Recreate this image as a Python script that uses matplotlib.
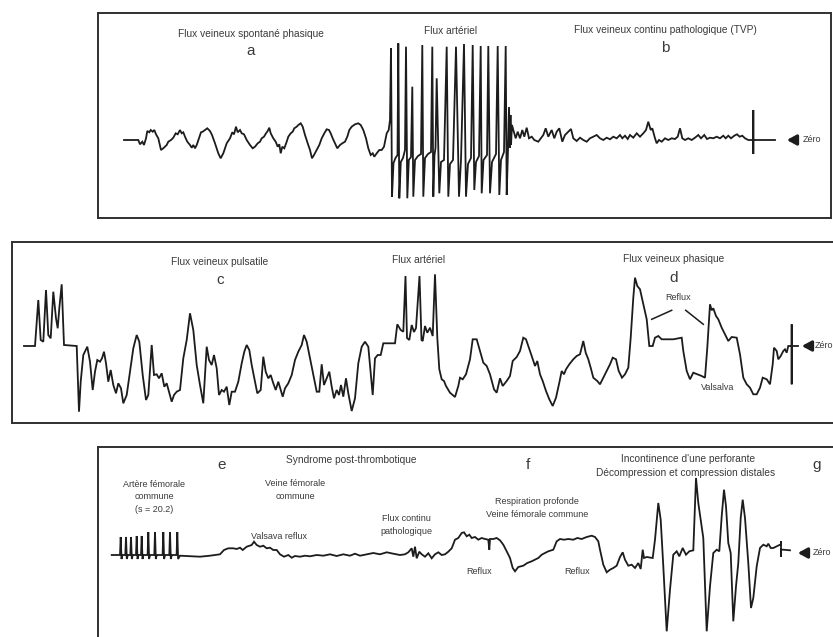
import matplotlib
matplotlib.use('Agg')
import matplotlib.pyplot as plt
import numpy as np

plt.rcParams['font.family'] = ['Liberation Sans', 'DejaVu Sans']

# ---- panel 1 : a / arterial / b  (time, velocity relative to zero) ----
vein_a = [(124, 0), (138.3, 0), (140, -4.3), (142.3, -1.7), (144, -5), (146, 1.7), (147.3, 9), (149.3, 7.7),
          (150.7, 10), (152.7, 8.3), (154.3, 10), (156, 5.7), (158.3, 1.7), (161, -10), (163.3, -8.3),
          (166.7, -5), (168.3, -1.7), (171, 0), (173.3, 2.3), (175.7, 6.7), (177.7, 5.7), (180, 10),
          (181.7, 6.7), (183.3, 7.7), (185, 3.3), (187.3, -1.7), (190, -5), (191.7, -7.7), (193.3, -5),
          (195, -8.3), (196.7, -5), (199, 1.7), (201, 7.7), (202.7, 8.3), (205, 10), (207.3, 11.7),
          (210, 9), (212, 5), (215, -3.3), (218.3, -13.3), (220.7, -18.3), (223.3, -13.3), (226.7, -3.3),
          (230, 1.7), (232.3, 7.7), (234, 5.7), (236, 13.3), (237.7, 7.7), (240, 10), (241.7, 6.7),
          (244, 5.7), (246.7, 0), (250, -5), (252.7, -8.3), (255, -6.7), (257.7, -3.3), (260, -1.7),
          (261.7, 1.7), (264, 3.3), (266, 6.7), (267.7, 9), (269.3, 12.3), (270.7, 6.7), (273.3, 1.7),
          (275.7, -1.7), (277.7, -6.7), (279.3, -4.3), (280.7, -13.3), (282.3, -6.7), (284.3, -8.3),
          (286.7, -1.7), (288.3, 3.3), (290.7, 6.7), (292.7, 8.3), (294.3, 11.7), (296.7, 13.3),
          (298.3, 15), (300.7, 16.7), (302.7, 13.3), (305, 5), (307.7, -3.3), (310, -10), (312, -18.3),
          (314, -15), (316.7, -10), (319.3, -5), (321.7, 1.7), (324.3, 6.7), (326.7, 10.7), (329, 10),
          (330.7, 6.7), (332.7, 1.7), (335, -3.3), (337.3, -8.3), (340, -5), (342.3, -3.3), (345, -1.7),
          (347.3, 3.3), (349.3, 10), (351.7, 13.3), (355, 15.7), (358.3, 16.7), (360.7, 15), (363.3, 10),
          (366, 1.7), (368.3, -8.3), (370.7, -15), (372.7, -13.3), (374.3, -16.7), (376.7, -13.3),
          (379.3, -10), (381.7, -10), (384, -6.7), (386.7, 6.7), (388.7, 10)]

arterial_1 = [(390, 20), (391, 91.7), (392, -56.7), (393.5, -23), (395.5, -18), (397.5, -15), (398.3, 96.7),
              (399.3, -58.3), (400.8, -22), (403, -18), (405, -10), (406, 93.3), (407.3, -58.3),
              (408.8, -20), (411, -17), (412.3, 53.3), (413.3, -56.7), (415, -20), (418, -16), (421, -14),
              (422.3, 95), (423.3, -56.7), (425, -18), (428, -14), (431, -12), (432.3, 93.3),
              (433.3, -56.7), (434.5, -15), (435.5, -8), (436.7, 61.7), (439.3, -53.3), (441, -22),
              (444, -20), (446.7, 93.3), (448.3, -56.7), (450, -24), (453, -20), (456, 93.3), (459, -56.7),
              (461, -20), (464, 96), (466, -56.7), (468, -24), (471, -18), (472.7, 95), (474.3, -50),
              (476, -22), (479, -16), (480.7, 94), (481.7, -53.3), (483.5, -20), (487, -15), (488.3, 94),
              (490, -53.3), (492, -22), (496, -14), (497.7, 94), (499.3, -55), (501, -20), (504, -12),
              (505.7, 94), (506.7, -55), (508, -10), (509, 33), (510, -8), (510.5, 25), (511, -5), (512, 15)]

vein_b = [(513.3, 10), (515.7, 1.7), (517.7, 8.3), (520, 1.7), (522.3, 10), (524.3, 3.3), (526.7, 12.3),
          (529, 1.7), (531.7, 3.3), (534.3, 0), (538.3, -1.7), (543.3, 5), (545.7, 11.7), (548.3, 3.3),
          (551.7, 10), (554.3, 1.7), (556.7, 8.3), (559.3, 11.7), (562.3, -1.7), (565, 5), (568.3, 8.3),
          (571, 11), (573.3, 1.7), (576.7, -1), (580, 2.3), (583.3, 0), (586.7, -1.7), (590, 1.7),
          (593.3, 3.3), (596.7, 5), (600, 1.7), (603.3, 0), (606.7, 2.3), (610, 0.7), (613.3, 3.3),
          (616.7, 1.7), (620, 5), (622.3, 1.7), (625, 4.3), (627.7, 1), (630, 5), (633.3, 2.3),
          (636.7, 6.7), (640, 3.3), (643.3, 6.7), (646, 10), (648.3, 18.3), (650.7, 10), (652.3, 11.7),
          (655, 1.7), (656.7, -3.3), (659, 0), (661.7, -1.7), (665, 1.7), (668.3, 0), (671.7, 1.7),
          (675, 1), (677.7, 3.3), (680, 11.7), (682.3, 1.7), (685, 0), (688.3, 1.7), (691.7, 0),
          (695, 2.3), (698.3, 5), (701, 1.7), (704.3, 5), (707, 1), (710, 2.3), (713.3, 1.7),
          (716.7, 3.3), (720, 1.7), (723.3, 4.3), (725.7, 1.7), (728.3, 4.3), (731, 1.7), (734.3, 4.3),
          (737, 5.7), (739.7, 3.3), (742.3, 4.3), (745, 1.7), (748.3, 0), (751.7, 0), (753.3, 0),
          (753.3, 30), (753.3, -14), (753.3, 0), (775, 0)]

# ---- panel 2 : c / arterial / d ----
vein_c = [(24, 0), (35, 0), (38.3, 46), (40.7, 6), (43.3, 4.3), (46, 56), (48.3, 11), (50.7, 7.7),
          (53.3, 54.3), (56, 27.7), (57.7, 17.7), (59.3, 37.7), (61.7, 61.7), (64, 1), (76.7, 0),
          (77.7, -29), (79, -65.7), (80.7, -35.7), (83.3, -9), (87.3, -0.7), (90, -15.7), (92.7, -44),
          (95, -25.7), (97.3, -14), (100, -15.7), (102, -12.3), (104, -5.7), (106, -17.3), (108.3, -35.7),
          (110.7, -24), (113.3, -39), (116, -47.3), (118.3, -37.3), (121, -42.3), (123.3, -57.3),
          (126.7, -49), (130, -25.7), (133.3, -2.3), (136.7, 11), (139.3, 4.3), (142.7, -29), (146, -54),
          (148.3, -49), (151.7, 1), (154, -29), (156.7, -28.3), (159, -32.3), (161.7, -27.3),
          (164.3, -40.7), (166.7, -37.3), (169, -45.7), (171.7, -55.7), (174, -49), (176.7, -45.7),
          (180, -44), (183.3, -12.3), (186.7, 6), (190, 32.7), (193.3, 16), (196.7, -19), (200, -39),
          (203.3, -57.3), (206.7, -0.7), (209, -14), (211.7, -19), (214, -9), (216.7, -22.3), (219, -49),
          (221.7, -44), (224, -45.7), (226.7, -40.7), (229.3, -59), (231.7, -45.7), (235, -45.7),
          (238.3, -35.7), (241.7, -17.3), (244.3, -5.7), (246.7, 1), (249.3, -4), (251.7, -19),
          (254.3, -32.3), (257.3, -47.3), (260.7, -44), (263.3, -10.7), (265.7, -25.7), (268.3, -32.3),
          (270.7, -29), (273.3, -37.3), (275.7, -44), (278.3, -35.7), (280.7, -44), (282.7, -50.7),
          (285, -42.3), (288.3, -37.3), (291.7, -29), (295, -14), (298.3, -5.7), (301.7, 1), (304, 11),
          (306.7, 4.3), (310, -12.3), (313.3, -29), (316.7, -45.7), (319.3, -45.7), (321.7, -18.3),
          (324, -39), (326.7, -32.3), (329.3, -25.7), (331.7, -40.7), (334, -52.3), (336.7, -44),
          (339, -49), (341, -39), (343.3, -50.7), (346, -32.3), (348.3, -47.3), (351.7, -65),
          (355, -52.3), (358.3, -17.3), (361.7, -0.7), (365, 4.3), (368.3, -0.7), (372.7, -49),
          (375, -12.3), (377.7, -9), (380.7, -9), (383.3, 2.7), (395, 2.7)]

arterial_2 = [(397.3, 21.7), (400.7, 16), (403.3, 14.3), (405.5, 70), (407, 8), (409.3, 6), (411.7, 21),
              (414, 14), (416, 18), (419.5, 70), (421.5, 6), (422.7, 5), (425, 20), (427.3, 13.3),
              (430, 18.3), (432.7, 10), (435, 71.7), (437.3, 8.3)]

vein_d = [(439.3, -23.3), (441.7, -33.3), (444, -35), (446, -40), (450, -46.7), (455, -51), (458.3, -40),
          (460, -31.7), (462.7, -33.3), (466, -28.3), (470, -13.3), (472.7, 6.7), (476.7, 6.7), (480, -5),
          (483.3, -16.7), (486.7, -20), (490, -28.3), (494, -43.3), (496.7, -46.7), (500, -32.3),
          (502.7, -40), (506.7, -35), (510, -30), (512.7, -15), (516.7, -11), (520, -5), (523.3, 8.3),
          (526, 6.7), (528.3, 0), (531.7, -10), (535, -20), (537.3, -15), (540, -28.3), (542.7, -35),
          (546, -45), (549.3, -53.3), (552.7, -60), (556, -51.7), (559.3, -36.7), (561.7, -25),
          (564, -28.3), (566, -23.3), (569.3, -18.3), (573.3, -13.3), (576.7, -10), (580, -8.3),
          (583.3, 5), (585.7, -6.7), (588.3, -13.3), (590.7, -21.7), (593.3, -31.7), (597.3, -35),
          (600, -38.3), (603.3, -31.7), (606.7, -25), (610, -18.3), (612.7, -11.7), (616, -13.3),
          (618.7, -25), (622, -31.7), (625, -28.3), (628.3, -21.7), (630.7, 8.3), (633.3, 48.3),
          (635, 68.3), (637.3, 60), (640, 56.7), (643.3, 41.7), (646.7, 26.7), (649.3, 0), (652.7, 0),
          (655, 8.3), (658.3, 10), (661.7, 6.7), (666.7, 6.7), (673.3, 6.7), (681.7, 8.3), (683.3, -5),
          (686.7, -25), (690, -33.3), (693.3, -26.7), (697.3, -28.3), (701.7, -30), (705, -31.7),
          (707.3, -1.7), (710, 41.7), (711.7, 35.7), (713.3, 37.7), (716, 30), (718.3, 26.7),
          (721.7, 18.3), (725, 11.7), (728.3, 5), (731.7, 9), (736.7, 8.3), (740, -8.3), (743.3, -31.7),
          (746.7, -38.3), (750, -41.7), (753.3, -48.3), (756.7, -48.3), (760, -41.7), (762.7, -31.7),
          (766.7, -33.3), (770, -38.3), (772.7, -18.3), (774, -1.7), (776.7, -5), (778.3, -13.3),
          (780.7, -10), (783.3, -5), (785, -3.3), (786.7, -6.7), (788.3, 0), (791.7, 0), (791.7, 21.7),
          (791.7, -38.3), (791.7, 0), (798, 0)]

# ---- panel 3 : e / f / g ----
arterial_3 = [(111.7, -2), (120, -2), (120.7, 16), (121.5, -6), (122.5, -2), (125.3, -2), (126, 16),
              (126.8, -6), (127.8, -2), (130.3, -2), (131, 16), (131.8, -6), (132.8, -2), (136, -2),
              (136.7, 17), (137.5, -6), (138.5, -2), (141, -2), (141.7, 17), (142.5, -6), (143.5, -2),
              (147.6, -2), (148.3, 21), (149.1, -6), (150.1, -2), (154.3, -2), (155, 21), (155.8, -6),
              (156.8, -2), (162.6, -2), (163.3, 21), (164.1, -6), (165.1, -2), (169.3, -2), (170, 21),
              (170.8, -6), (171.8, -2), (176.6, -2), (177.3, 21), (178.1, -6), (180, -2.7)]

vein_e = [(200, -3.7), (210, -2.7), (220, -1.3), (224, 3), (228.3, 4.7), (233.3, 4.7), (236.7, 4),
          (240, 5.3), (242.7, 3), (246.7, 6.3), (251.7, 8), (254, 11.3), (256.7, 8), (260, 6.3),
          (263.3, 7.3), (266.7, 4.7), (270, 5.3), (273.3, 3), (276.7, 3), (280, -1.3), (284, -3.7),
          (288.3, -2), (291.7, -4.7), (295, -3), (300, -3.7), (305, -2.7), (310, -3.3), (316.7, -2),
          (323.3, -2.7), (330, -1.3), (336.7, -3), (343.3, -1.3), (350, -2.7), (355, -0.7), (360, -2.7),
          (366.7, -1.3), (373.3, 0), (380, -1.3), (386.7, 0.7), (393.3, -0.7), (400, -2), (405, -1.3),
          (408.3, 0.7), (411.7, 4.7), (413.3, -3.7), (415, 6.3), (416.7, -5.3), (419.3, 1.3),
          (421.7, -1.3), (425, -3.7), (428.3, -0.3), (431.7, -5.3), (435, -1.3), (438.3, 0.7),
          (441.7, -2), (445, -1.3), (448.3, 1.3)]

vein_f = [(451.7, 4.7), (455, 13.3), (458.3, 15), (461.7, 20), (464, 20.7), (466.7, 16.7), (469.3, 18.3),
          (471.7, 15), (475, 16), (478.3, 13.3), (481.7, 15), (485, 14), (488.3, 13.3), (489.3, 3.3),
          (490, 14), (493.3, 14), (496.7, 15), (500, 12.7), (503.3, 8.3), (506.7, 1.7), (510, -5),
          (512.7, -15), (515, -18.3), (518.3, -14), (523.3, -12.7), (527.3, -10), (531.7, -8.3),
          (535, -6.7), (538.3, -5), (541.7, -1.7), (545, 0), (548.3, 1.7), (553.3, 3.3), (556.7, 11.7),
          (560, 14), (564, 13.3), (568.3, 14), (573.3, 13.3), (577.3, 15), (581.7, 14), (586.7, 16),
          (591.7, 17.3), (595, 16), (598.3, 11.7), (600, 3.3), (603.3, -11.7), (606.7, -19.3),
          (610, -16.7), (613.3, -15), (616.7, -12.7), (620, -4), (622.7, 0.7), (625, -6.7),
          (628.3, -12.7), (631.7, -11.7), (635, -15), (638.3, -10), (640.7, -16), (642.7, 3.3),
          (644, -5), (646.7, -4), (652.7, -5)]

perforante_g = [(655, 13.3), (658.3, 50), (660.7, 33.3), (663.3, -13.3), (666.7, -78.3), (670, -36.7),
                (673.3, -1.7), (676.7, 1.7), (679.3, -3.3), (682.7, 5), (686, -1.7), (689.3, 1.7),
                (693.3, 2.7), (696, 75), (698.3, 50), (703.3, 15), (706.7, -78.3), (710, -33.3),
                (713.3, 0), (716.7, 3.3), (719.3, 1.7), (721.7, 36.7), (724, 63.3), (726, 46.7),
                (728.3, 10), (730.7, 0), (733.3, -68.3), (736, -33.3), (738.3, -10), (740.7, 35),
                (742.7, 53.3), (745, 35), (748.3, -10), (751, -55), (753.3, -45), (756.7, -13.3),
                (760, 5), (763.3, 8.3), (766.7, 6.7), (768.3, 9.3), (770.7, 5), (773.3, 5), (776.7, 6.7),
                (780, 8.3), (781, 8.3), (781, 11.7), (781, -4), (781, 3.3), (783.3, 3.3), (790, 2.7)]

INK = '#1c1c1c'
TXT = '#3a3a3a'


def make_panel(fig, left, right, top, bottom, zero):
    W, H = 833.0, 637.0
    ax = fig.add_axes([left / W, 1 - bottom / H, (right - left) / W, (bottom - top) / H])
    ax.set_xlim(left, right)
    ax.set_ylim(zero - bottom, zero - top)
    ax.set_xticks([])
    ax.set_yticks([])
    for s in ax.spines.values():
        s.set_linewidth(1.4)
        s.set_color('#303030')
    return ax


def draw_trace(ax, *segments):
    pts = np.array([p for seg in segments for p in seg])
    ax.plot(pts[:, 0], pts[:, 1], color=INK, lw=1.3, solid_joinstyle='miter')


def zero_mark(ax, x_tip, label_x):
    ax.annotate('', xy=(x_tip, 0), xytext=(x_tip + 13, 0),
                arrowprops=dict(arrowstyle='-|>,head_length=0.55,head_width=0.3', lw=2.2, color=INK))
    ax.text(label_x, 0, 'Zéro', fontsize=6.5, color=TXT, va='center', ha='left')


fig = plt.figure(figsize=(8.33, 6.37), dpi=100)
fig.patch.set_facecolor('white')

# panel 1
ax1 = make_panel(fig, 98, 831, 13, 218, 140)
draw_trace(ax1, vein_a, arterial_1, vein_b)
zero_mark(ax1, 784, 803)
ax1.text(251, 140 - 34, 'Flux veineux spontané phasique', fontsize=7.3, color=TXT, ha='center', va='center')
ax1.text(251, 140 - 51, 'a', fontsize=11, color=TXT, ha='center', va='center')
ax1.text(451, 140 - 31, 'Flux artériel', fontsize=7.3, color=TXT, ha='center', va='center')
ax1.text(665, 140 - 30, 'Flux veineux continu pathologique (TVP)', fontsize=7.3, color=TXT, ha='center', va='center')
ax1.text(665, 140 - 48, 'b', fontsize=11, color=TXT, ha='center', va='center')

# panel 2
ax2 = make_panel(fig, 12, 850, 242, 423, 346)
draw_trace(ax2, vein_c, arterial_2, vein_d)
zero_mark(ax2, 799, 815)
ax2.text(220, 346 - 262, 'Flux veineux pulsatile', fontsize=7.3, color=TXT, ha='center', va='center')
ax2.text(220, 346 - 280, 'c', fontsize=11, color=TXT, ha='center', va='center')
ax2.text(419, 346 - 260, 'Flux artériel', fontsize=7.3, color=TXT, ha='center', va='center')
ax2.text(674, 346 - 259, 'Flux veineux phasique', fontsize=7.3, color=TXT, ha='center', va='center')
ax2.text(674, 346 - 278, 'd', fontsize=11, color=TXT, ha='center', va='center')
ax2.text(678, 346 - 297, 'Reflux', fontsize=6.5, color=TXT, ha='center', va='center')
ax2.plot([671.7, 651.7], [35.7, 26.7], color=INK, lw=1.1)
ax2.plot([685.7, 703.3], [35.7, 21.7], color=INK, lw=1.1)
ax2.text(718, 346 - 388, 'Valsalva', fontsize=6.5, color=TXT, ha='center', va='center')

# panel 3
ax3 = make_panel(fig, 98, 850, 447, 660, 553)
draw_trace(ax3, arterial_3, vein_e, vein_f, perforante_g)
zero_mark(ax3, 795, 813)
z = 553
ax3.text(222, z - 465, 'e', fontsize=11, color=TXT, ha='center', va='center')
ax3.text(351, z - 460, 'Syndrome post-thrombotique', fontsize=7.3, color=TXT, ha='center', va='center')
ax3.text(528, z - 465, 'f', fontsize=11, color=TXT, ha='center', va='center')
ax3.text(817, z - 465, 'g', fontsize=11, color=TXT, ha='center', va='center')
ax3.text(688, z - 459, "Incontinence d'une perforante", fontsize=7.3, color=TXT, ha='center', va='center')
ax3.text(686, z - 473, 'Décompression et compression distales', fontsize=7.3, color=TXT, ha='center', va='center')
ax3.text(154, z - 497, 'Artère fémorale\ncommune\n(s = 20.2)', fontsize=6.5, color=TXT,
         ha='center', va='center', linespacing=1.45)
ax3.text(295, z - 490, 'Veine fémorale\ncommune', fontsize=6.5, color=TXT, ha='center', va='center',
         linespacing=1.45)
ax3.text(279, z - 537, 'Valsava reflux', fontsize=6.5, color=TXT, ha='center', va='center')
ax3.text(406, z - 525, 'Flux continu\npathologique', fontsize=6.5, color=TXT, ha='center', va='center',
         linespacing=1.45)
ax3.text(537, z - 508, 'Respiration profonde\nVeine fémorale commune', fontsize=6.5, color=TXT,
         ha='center', va='center', linespacing=1.45)
ax3.text(479, z - 572, 'Reflux', fontsize=6.5, color=TXT, ha='center', va='center')
ax3.text(577, z - 572, 'Reflux', fontsize=6.5, color=TXT, ha='center', va='center')

fig.savefig('out.png', dpi=100, facecolor='white')
